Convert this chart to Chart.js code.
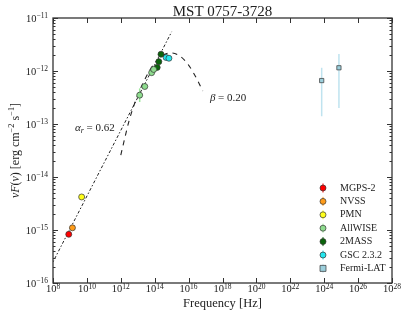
<!DOCTYPE html>
<html>
<head>
<meta charset="utf-8">
<script src="https://cdn.jsdelivr.net/npm/chart.js@4.4.0/dist/chart.umd.min.js"></script>
<style>
html, body { margin: 0; padding: 0; background: #fff; }
#wrap { width: 407px; height: 318px; }
</style>
</head>
<body>
<div id="wrap"><canvas id="sed"></canvas></div>
<script>
// values (Hz, erg cm^-2 s^-1)
var mgpsFreq = [8.5e8];
var mgpsFlux = [8.3e-16];
var nvssFreq = [1.4e9];
var nvssFlux = [1.1e-15];
var pmnFreq = [4.9e9];
var pmnFlux = [4.2e-15];
var wiseFreq = [1.3e13, 2.6e13, 6.6e13, 8.7e13];
var wiseFlux = [3.5e-13, 5.1e-13, 9.3e-13, 1.07e-12];
var wiseLo = [2.6e-13, null, null, null];
var wiseHi = [4.7e-13, null, null, null];
var tmassFreq = [1.4e14, 1.75e14, 2.35e14];
var tmassFlux = [1.17e-12, 1.5e-12, 2.07e-12];
var gscFreq = [4.7e14, 6.9e14];
var gscFlux = [1.8e-12, 1.74e-12];
var fermiFreq = [7.1e23, 7.4e24];
var fermiFlux = [6.6e-13, 1.15e-12];
var fermiLo = [1.4e-13, 2.0e-13];
var fermiHi = [1.15e-12, 2.1e-12];

// radio power law (alpha_r) and log-parabola (beta) curves
var alphaFreq = [1e8, 1e15];
var alphaFlux = [2.5e-16, 5.5e-12];
var betaFreq = [1e12, 3.2e12, 1e13, 3.2e13, 1e14, 3.2e14, 1e15, 3.2e15, 1e16, 3.2e16, 6.8e16];
var betaFlux = [2.6e-14, 1.2e-13, 3.5e-13, 7.9e-13, 1.41e-12, 2.0e-12, 2.19e-12, 1.9e-12, 1.29e-12, 6.9e-13, 4.2e-13];

var xTicks = [1e8, 1e10, 1e12, 1e14, 1e16, 1e18, 1e20, 1e22, 1e24, 1e26, 1e28];
var yTicks = [1e-16, 1e-15, 1e-14, 1e-13, 1e-12, 1e-11];

var serif = '"Liberation Serif", "DejaVu Serif", serif';
var ink = '#222';
var edge = '#333';

// y axis title pieces: text, italic, raised
var yTitle = [
    ['\u03bdF', true, false], ['(', false, false], ['\u03bd', true, false], [') [erg cm', false, false],
    ['\u22122', false, true], [' s', false, false], ['\u22121', false, true], [']', false, false]
];

function expOf(v) {
    return String(Math.round(Math.log10(v))).replace('-', '\u2212');
}

function pts(xs, ys) {
    return xs.map(function (x, i) { return { x: x, y: ys[i] }; });
}

function series(label, xs, ys, color, shape, lo, hi, errColor) {
    return {
        label: label,
        data: pts(xs, ys),
        backgroundColor: color,
        borderColor: edge,
        borderWidth: 0.7,
        pointRadius: 3,
        pointStyle: shape || 'circle',
        errLo: lo,
        errHi: hi,
        errColor: errColor || color
    };
}

function runFont(r, size) {
    return (r[1] ? 'italic ' : '') + (r[2] ? size * 0.7 : size) + 'px ' + serif;
}

var errorBars = {
    id: 'errorBars',
    beforeDatasetsDraw: function (chart) {
        var ctx = chart.ctx, xs = chart.scales.x, ys = chart.scales.y;
        ctx.save();
        chart.data.datasets.forEach(function (ds) {
            if (!ds.errLo) return;
            ds.data.forEach(function (p, i) {
                if (ds.errLo[i] == null) return;
                var px = xs.getPixelForValue(p.x);
                ctx.strokeStyle = ds.errColor;
                ctx.lineWidth = 1.5;
                ctx.beginPath();
                ctx.moveTo(px, ys.getPixelForValue(ds.errLo[i]));
                ctx.lineTo(px, ys.getPixelForValue(ds.errHi[i]));
                ctx.stroke();
            });
        });
        ctx.restore();
    }
};

var frameAndTicks = {
    id: 'frameAndTicks',
    afterDraw: function (chart) {
        var ctx = chart.ctx, a = chart.chartArea, xs = chart.scales.x, ys = chart.scales.y;
        ctx.save();
        ctx.strokeStyle = edge;
        ctx.lineWidth = 1;
        ctx.beginPath();
        xs.ticks.forEach(function (t) {
            var px = Math.round(xs.getPixelForValue(t.value)) + 0.5;
            ctx.moveTo(px, a.bottom); ctx.lineTo(px, a.bottom - 5);
            ctx.moveTo(px, a.top); ctx.lineTo(px, a.top + 5);
        });
        ys.ticks.forEach(function (t, k) {
            var v = t.value;
            var py = Math.round(ys.getPixelForValue(v)) + 0.5;
            ctx.moveTo(a.left, py); ctx.lineTo(a.left + 5, py);
            ctx.moveTo(a.right, py); ctx.lineTo(a.right - 5, py);
            if (k === ys.ticks.length - 1) return;
            for (var m = 2; m < 10; m++) {
                var my = Math.round(ys.getPixelForValue(v * m)) + 0.5;
                ctx.moveTo(a.left, my); ctx.lineTo(a.left + 2.5, my);
                ctx.moveTo(a.right, my); ctx.lineTo(a.right - 2.5, my);
            }
        });
        ctx.stroke();
        ctx.lineWidth = 1.3;
        ctx.strokeRect(a.left, a.top, a.right - a.left, a.bottom - a.top);

        // tick labels as 10 with a raised exponent
        ctx.fillStyle = ink;
        ctx.textBaseline = 'alphabetic';
        ctx.textAlign = 'left';
        var baseFont = '10.5px ' + serif, expFont = '7.5px ' + serif;
        xs.ticks.forEach(function (t) {
            var px = xs.getPixelForValue(t.value), e = expOf(t.value);
            ctx.font = baseFont;
            var w1 = ctx.measureText('10').width;
            ctx.font = expFont;
            var w2 = ctx.measureText(e).width;
            var x0 = px - (w1 + w2) / 2;
            ctx.font = baseFont;
            ctx.fillText('10', x0, a.bottom + 9);
            ctx.font = expFont;
            ctx.fillText(e, x0 + w1, a.bottom + 5.5);
        });
        ys.ticks.forEach(function (t) {
            var py = ys.getPixelForValue(t.value), e = expOf(t.value);
            ctx.font = expFont;
            var w2 = ctx.measureText(e).width;
            ctx.fillText(e, a.left - 5 - w2, py - 0.5);
            ctx.font = baseFont;
            var w1 = ctx.measureText('10').width;
            ctx.fillText('10', a.left - 5 - w2 - w1, py + 4);
        });

        // title centred over the plot area
        ctx.font = '15px ' + serif;
        ctx.textAlign = 'center';
        ctx.fillText('MST 0757-3728', (a.left + a.right) / 2, 16);
        ctx.textAlign = 'left';

        // y axis title, rotated
        var size = 12, total = 0;
        yTitle.forEach(function (r) { ctx.font = runFont(r, size); total += ctx.measureText(r[0]).width; });
        ctx.save();
        ctx.translate(19, (a.top + a.bottom) / 2);
        ctx.rotate(-Math.PI / 2);
        var cx = -total / 2;
        yTitle.forEach(function (r) {
            ctx.font = runFont(r, size);
            ctx.fillText(r[0], cx, r[2] ? -5 : 0);
            cx += ctx.measureText(r[0]).width;
        });
        ctx.restore();

        // annotations
        var ax = xs.getPixelForValue(2e9), ay = ys.getPixelForValue(7.4e-14);
        ctx.font = 'italic 11px ' + serif;
        ctx.fillText('\u03b1', ax, ay);
        var w = ctx.measureText('\u03b1').width;
        ctx.font = 'italic 8px ' + serif;
        ctx.fillText('r', ax + w, ay + 2.5);
        ctx.font = '11px ' + serif;
        ctx.fillText(' = 0.62', ax + w + 3, ay);
        var bx = xs.getPixelForValue(1.8e17), by = ys.getPixelForValue(2.7e-13);
        ctx.font = 'italic 11px ' + serif;
        ctx.fillText('\u03b2', bx, by);
        w = ctx.measureText('\u03b2').width;
        ctx.font = '11px ' + serif;
        ctx.fillText(' = 0.20', bx + w, by);

        // legend
        var lx = 323, ly = 188, step = 13.4;
        ctx.font = '10px ' + serif;
        ctx.textBaseline = 'middle';
        chart.data.datasets.forEach(function (ds) {
            if (!ds.legend) return;
            ctx.strokeStyle = ds.errColor;
            ctx.lineWidth = 1;
            ctx.beginPath();
            ctx.moveTo(lx, ly - 4.5); ctx.lineTo(lx, ly + 4.5);
            ctx.stroke();
            ctx.fillStyle = ds.backgroundColor;
            ctx.strokeStyle = edge;
            ctx.lineWidth = 0.7;
            ctx.beginPath();
            if (ds.pointStyle === 'rect') ctx.rect(lx - 3, ly - 3, 6, 6);
            else ctx.arc(lx, ly, 3, 0, Math.PI * 2);
            ctx.fill();
            ctx.stroke();
            ctx.fillStyle = ink;
            ctx.fillText(ds.label, lx + 17, ly);
            ly += step;
        });
        ctx.restore();
    }
};

var datasets = [
    series('MGPS-2', mgpsFreq, mgpsFlux, '#ff0000'),
    series('NVSS', nvssFreq, nvssFlux, '#ff9c1a'),
    series('PMN', pmnFreq, pmnFlux, '#ffff1a'),
    series('AllWISE', wiseFreq, wiseFlux, '#8fdc8f', 'circle', wiseLo, wiseHi, '#9be89b'),
    series('2MASS', tmassFreq, tmassFlux, '#0a640a'),
    series('GSC 2.3.2', gscFreq, gscFlux, '#22e6ee'),
    series('Fermi-LAT', fermiFreq, fermiFlux, '#9ccfdc', 'rect', fermiLo, fermiHi, '#bfe3ef'),
    {
        label: 'alpha',
        data: pts(alphaFreq, alphaFlux),
        showLine: true,
        pointRadius: 0,
        borderColor: ink,
        borderWidth: 1,
        borderDash: [1.5, 2, 3, 2]
    },
    {
        label: 'beta',
        data: pts(betaFreq, betaFlux),
        showLine: true,
        pointRadius: 0,
        borderColor: ink,
        borderWidth: 1.1,
        borderDash: [5, 5],
        cubicInterpolationMode: 'monotone'
    }
];
datasets.forEach(function (ds, i) { ds.legend = i < 7; });

new Chart(document.getElementById('sed'), {
    type: 'scatter',
    data: { datasets: datasets },
    options: {
        responsive: true,
        maintainAspectRatio: false,
        animation: false,
        layout: { padding: { left: 0, right: 15, top: 18, bottom: 0 } },
        plugins: {
            legend: { display: false },
            tooltip: { enabled: false },
            title: { display: false }
        },
        scales: {
            x: {
                type: 'logarithmic',
                min: 1e8,
                max: 1e28,
                grid: { display: false, drawTicks: false, tickLength: 0 },
                border: { display: false },
                afterBuildTicks: function (s) { s.ticks = xTicks.map(function (v) { return { value: v }; }); },
                afterFit: function (s) { s.height = 35; },
                ticks: { display: false, autoSkip: false },
                title: {
                    display: true,
                    text: 'Frequency [Hz]',
                    color: ink,
                    font: { family: serif, size: 12.5 },
                    padding: { top: 0, bottom: 7 }
                }
            },
            y: {
                type: 'logarithmic',
                min: 1e-16,
                max: 1e-11,
                grid: { display: false, drawTicks: false, tickLength: 0 },
                border: { display: false },
                afterBuildTicks: function (s) { s.ticks = yTicks.map(function (v) { return { value: v }; }); },
                afterFit: function (s) { s.width = 53; },
                ticks: { display: false, autoSkip: false },
                title: { display: false }
            }
        }
    },
    plugins: [errorBars, frameAndTicks]
});
</script>
</body>
</html>
